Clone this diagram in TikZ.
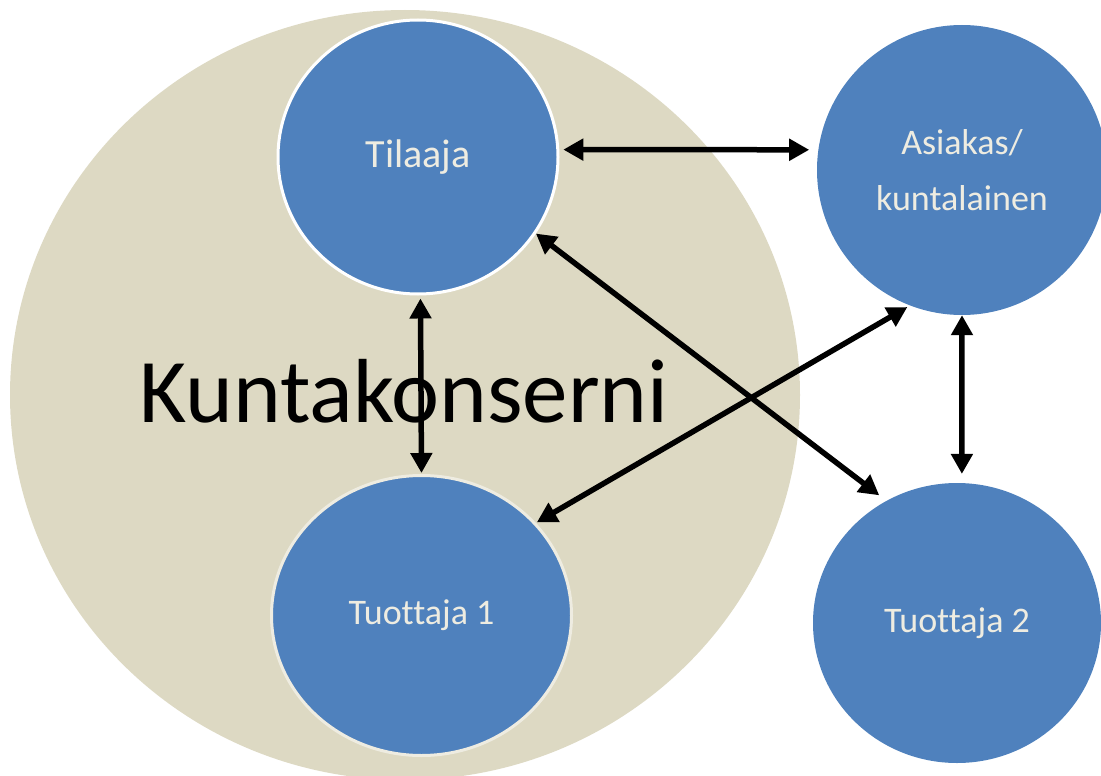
\documentclass[tikz,border=0pt]{standalone}
\usepackage{fontspec}
\setmainfont[Ligatures={NoCommon}]{Carlito}
\usetikzlibrary{shapes.geometric,arrows.meta}
\definecolor{beige}{HTML}{DDD9C3}
\definecolor{nodeblue}{HTML}{4F81BD}
\definecolor{cream}{HTML}{EEECE1}
\tikzset{
  bubble/.style={ellipse, fill=nodeblue, inner sep=0pt, text=cream, align=center, font=\fontsize{36pt}{56pt}\selectfont},
  link/.style={line width=5.5pt, {Triangle[length=20pt,width=21pt]}-{Triangle[length=20pt,width=21pt]}},
}
\begin{document}
\begin{tikzpicture}[x=1pt,y=-1pt]
\useasboundingbox (0,0) rectangle (1101,776);
\clip (0,0) rectangle (1101,776);
% big group ellipse
\node[ellipse, fill=beige, minimum width=790pt, minimum height=770pt, inner sep=0pt] (group) at (405,395) {};
\node[anchor=base, font=\fontsize{91pt}{100pt}\selectfont, text=black] (label) at (404,422) {Kuntakonserni};
% nodes
\node[bubble, draw=white, line width=3pt, minimum width=280pt, minimum height=274pt, font=\fontsize{40pt}{48pt}\selectfont] (T) at (418,157) {Tilaaja};
\node[bubble, minimum width=290pt, minimum height=290pt] (A) at (962,170) {Asiakas/\\kuntalainen};
\node[bubble, draw=cream, line width=3pt, minimum width=300pt, minimum height=280pt] (P1) at (421.5,615.5) {Tuottaja 1};
\node[bubble, minimum width=288pt, minimum height=280pt] (P2) at (957,623) {Tuottaja 2};
% connectors
\draw[link, shorten <=4pt, shorten >=9pt] (T.3) -- (A.172);
\draw[link, shorten <=3pt, shorten >=1pt] (T.-89) -- (P1.north);
\draw[link, shorten >=9pt] (T.-33) -- (P2.120);
\draw[link, shorten <=1pt, shorten >=3pt] (P1.39.8) -- (A.-111.9);
\draw[link, shorten >=9pt] (A.south) -- (P2.88);
\end{tikzpicture}
\end{document}
